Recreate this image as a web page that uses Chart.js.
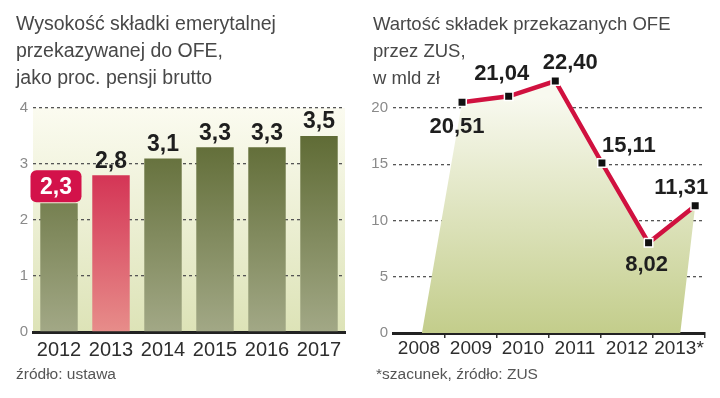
<!DOCTYPE html>
<html>
<head>
<meta charset="utf-8">
<script src="https://cdn.jsdelivr.net/npm/chart.js@4.4.1/dist/chart.umd.min.js"></script>
<style>
  body { margin: 0; background: #fff; font-family: "Liberation Sans", Arial, sans-serif; }
  .wrap { position: relative; width: 720px; height: 398px; overflow: hidden; }
  .panel { position: absolute; top: 0; width: 360px; height: 398px; }
  .panel canvas { position: absolute; left: 0; top: 0; }
  .title { position: absolute; left: 16px; top: 10px; font-size: 19.5px; line-height: 27px; color: #484848; white-space: nowrap; }
  .note { position: absolute; left: 16px; top: 365px; font-size: 15.5px; color: #555; white-space: nowrap; }
</style>
</head>
<body>
<div class="wrap">
  <div class="panel" style="left:0">
    <canvas id="share" width="360" height="398"></canvas>
    <div class="title">Wysokość składki emerytalnej<br>przekazywanej do OFE,<br>jako proc. pensji brutto</div>
    <div class="note">źródło: ustawa</div>
  </div>
  <div class="panel" style="left:360px">
    <canvas id="zus" width="360" height="398"></canvas>
    <div class="title" style="left:13px; font-size:18.5px">Wartość składek przekazanych OFE<br>przez ZUS,<br>w mld zł</div>
    <div class="note">*szacunek, źródło: ZUS</div>
  </div>
</div>
<script>
// left: contribution as % of gross pay
const shareYears = ['2012', '2013', '2014', '2015', '2016', '2017'];
const shareValues = [2.3, 2.8, 3.1, 3.3, 3.3, 3.5];
const shareTicks = [0, 1, 2, 3, 4];

// right: transfers from ZUS to OFE, bn zl
const zusYears = ['2008', '2009', '2010', '2011', '2012', '2013*'];
const zusValues = [20.51, 21.04, 22.40, 15.11, 8.02, 11.31];
const zusTicks = [0, 5, 10, 15, 20];

const redBar = 1;      // 2013 bar drawn in red
const boxedLabel = 0;  // 2012 label sits in a red box

Chart.defaults.font.family = '"Liberation Sans", Arial, sans-serif';

const comma = (v, d) => v.toFixed(d).replace('.', ',');

function vgrad(chart, y0, y1, c0, c1) {
  const g = chart.ctx.createLinearGradient(0, y0, 0, y1);
  g.addColorStop(0, c0);
  g.addColorStop(1, c1);
  return g;
}

const plotBg = {
  id: 'plotBg',
  beforeDraw(chart) {
    const a = chart.chartArea;
    chart.ctx.save();
    chart.ctx.fillStyle = vgrad(chart, a.top, a.bottom, '#fbfbf0', '#dde3b7');
    chart.ctx.fillRect(a.left, a.top, a.right - a.left, a.bottom - a.top);
    chart.ctx.restore();
  }
};

const barLabels = {
  id: 'barLabels',
  afterDatasetsDraw(chart) {
    const ctx = chart.ctx;
    ctx.save();
    ctx.font = 'bold 23px "Liberation Sans", Arial, sans-serif';
    ctx.textAlign = 'center';
    ctx.textBaseline = 'middle';
    chart.getDatasetMeta(0).data.forEach((bar, i) => {
      const txt = comma(shareValues[i], 1);
      if (i === boxedLabel) {
        const w = 51, h = 32, x0 = bar.x - 3 - w / 2, y0 = bar.y - h - 1;
        ctx.fillStyle = '#d3124a';
        ctx.beginPath();
        ctx.roundRect(x0, y0, w, h, 6);
        ctx.fill();
        ctx.fillStyle = '#fff';
        ctx.fillText(txt, x0 + w / 2, y0 + h / 2 + 1);
      } else {
        ctx.fillStyle = '#1e1e1e';
        ctx.fillText(txt, bar.x, bar.y - 14);
      }
    });
    ctx.restore();
  }
};

new Chart(document.getElementById('share'), {
  type: 'bar',
  data: {
    labels: shareYears,
    datasets: [{
      data: shareValues,
      barPercentage: 0.72,
      categoryPercentage: 1,
      backgroundColor: c => {
        const a = c.chart.chartArea;
        if (!a) return '#6b7533';
        return c.dataIndex === redBar
          ? vgrad(c.chart, a.top, a.bottom, '#cc0f3f', '#e78d8a')
          : vgrad(c.chart, a.top, a.bottom, '#56632a', '#a2a886');
      }
    }]
  },
  options: {
    responsive: false,
    animation: false,
    layout: { padding: { top: 108, right: 15, left: 0, bottom: 0 } },
    plugins: { legend: { display: false }, tooltip: { enabled: false } },
    scales: {
      x: {
        grid: { display: false },
        border: { display: true, color: '#222', width: 3 },
        ticks: { color: '#2e2e2e', font: { size: 20 }, padding: -2, maxRotation: 0, minRotation: 0, autoSkip: false },
        afterFit: s => { s.height = 66; }
      },
      y: {
        min: 0,
        max: 4,
        afterBuildTicks: s => { s.ticks = shareTicks.map(v => ({ value: v })); },
        grid: { color: c => c.tick && c.tick.value === 0 ? 'rgba(0,0,0,0)' : '#555', lineWidth: 1.3, drawTicks: false },
        border: { display: false, dash: [3, 3] },
        ticks: { color: '#8a8a8a', font: { size: 15 }, padding: 5 },
        afterFit: s => { s.width = 33; }
      }
    }
  },
  plugins: [plotBg, barLabels]
});

// area under the line, built from the line's own points
const areaFill = {
  id: 'areaFill',
  beforeDatasetsDraw(chart) {
    const pts = chart.getDatasetMeta(0).data;
    const xl = chart.scales.xl, y = chart.scales.y;
    const base = y.getPixelForValue(0);
    const ctx = chart.ctx;
    ctx.save();
    ctx.beginPath();
    ctx.moveTo(xl.getPixelForValue(-0.86), base);
    pts.forEach(p => ctx.lineTo(p.x, p.y));
    ctx.lineTo(xl.getPixelForValue(4.68), base);
    ctx.closePath();
    ctx.fillStyle = vgrad(chart, y.getPixelForValue(21), base, '#f8f9ef', '#c3cd8b');
    ctx.fill();
    ctx.restore();
  }
};

const zusLabelOffsets = [[-5, 25], [-7, -22], [15, -18], [27, -17], [-2, 22], [-14, -18]];

const pointLabels = {
  id: 'pointLabels',
  afterDatasetsDraw(chart) {
    const ctx = chart.ctx;
    ctx.save();
    ctx.font = 'bold 22px "Liberation Sans", Arial, sans-serif';
    ctx.textAlign = 'center';
    ctx.textBaseline = 'middle';
    ctx.fillStyle = '#1e1e1e';
    chart.getDatasetMeta(0).data.forEach((p, i) => {
      const [dx, dy] = zusLabelOffsets[i];
      ctx.fillText(comma(zusValues[i], 2), p.x + dx, p.y + dy);
    });
    ctx.restore();
  }
};

new Chart(document.getElementById('zus'), {
  type: 'line',
  data: {
    labels: zusYears,
    datasets: [{
      data: zusValues.map((v, i) => ({ x: i, y: v })),
      xAxisID: 'xl',
      borderColor: '#d0113f',
      borderWidth: 4.5,
      pointStyle: 'rect',
      pointRadius: 6,
      pointBackgroundColor: '#111',
      pointBorderColor: '#fff',
      pointBorderWidth: 1.5,
      fill: false,
      clip: false
    }]
  },
  options: {
    responsive: false,
    animation: false,
    layout: { padding: { top: 63, right: 15, left: 0, bottom: 0 } },
    plugins: { legend: { display: false }, tooltip: { enabled: false } },
    scales: {
      x: {
        type: 'category',
        offset: true,
        grid: {
          offset: true,
          drawOnChartArea: false,
          drawTicks: true,
          tickLength: 5,
          lineWidth: 1.5,
          color: c => (c.index === 0 || c.index >= zusYears.length) ? 'rgba(0,0,0,0)' : '#333'
        },
        border: { display: true, color: '#222', width: 3 },
        ticks: { color: '#2e2e2e', font: { size: 19 }, padding: -1, maxRotation: 0, minRotation: 0, autoSkip: false },
        afterFit: s => { s.height = 65; }
      },
      xl: { type: 'linear', display: false, min: -1.48, max: 5.21 },
      y: {
        min: 0,
        max: 24,
        afterBuildTicks: s => { s.ticks = zusTicks.map(v => ({ value: v })); },
        grid: { color: c => c.tick && c.tick.value === 0 ? 'rgba(0,0,0,0)' : '#555', lineWidth: 1.3, drawTicks: false },
        border: { display: false, dash: [3, 3] },
        ticks: { color: '#8a8a8a', font: { size: 15 }, padding: 5 },
        afterFit: s => { s.width = 33; }
      }
    }
  },
  plugins: [areaFill, pointLabels]
});
</script>
</body>
</html>
